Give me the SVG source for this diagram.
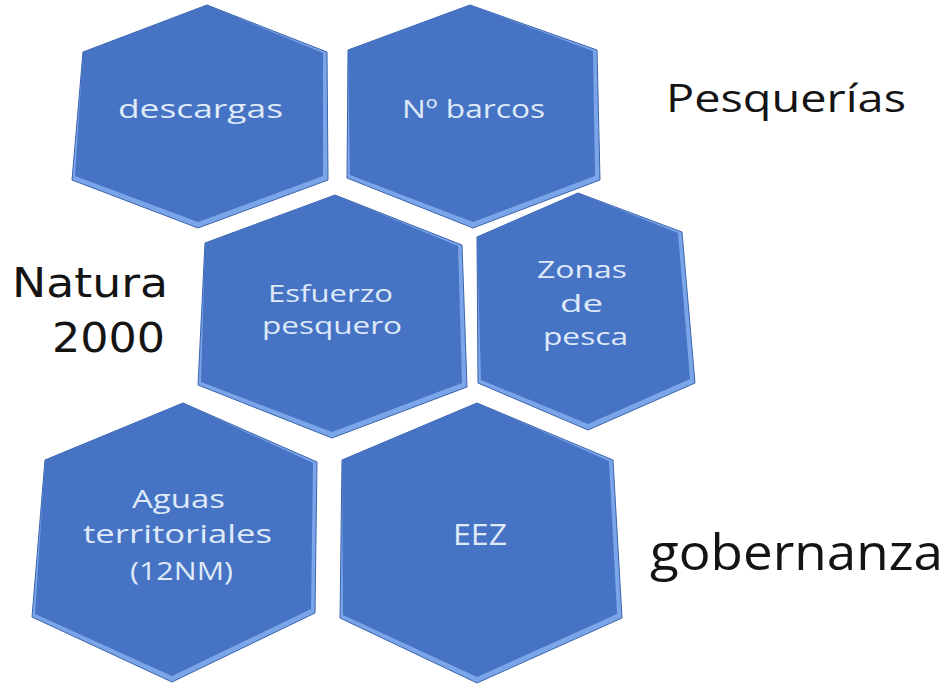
<svg xmlns="http://www.w3.org/2000/svg" width="948" height="686" viewBox="0 0 948 686">
<style>
.edge{fill:#7aa5e8;stroke:#3b63ac;stroke-width:1}
.face{fill:#4673c4}
.ht{font-family:"Open Sans","Noto Sans",sans-serif;fill:#dfeaf8;text-anchor:start}
.lbl{font-family:"Open Sans","Noto Sans",sans-serif;fill:#141414}
.nat{font-family:"DejaVu Sans","Noto Sans",sans-serif;fill:#141414}
</style>
<rect width="948" height="686" fill="#ffffff"/>
<g id="hex-descargas">
<polygon class="edge" points="207,5 327,52 328,180 198,228 72,180 83,52"/>
<polygon class="face" points="207,5 323,53 323,176 198,222 75,176 83,52"/>
<text class="ht" x="118" y="118" font-size="26" textLength="165" lengthAdjust="spacingAndGlyphs">descargas</text>
</g>
<g id="hex-barcos">
<polygon class="edge" points="470,5 597,50 600,180 473,228 347,178 348,50"/>
<polygon class="face" points="470,5 593,51 595,176 473,222 350,175 348,50"/>
<text class="ht" x="402" y="118" font-size="26" textLength="143" lengthAdjust="spacingAndGlyphs">Nº barcos</text>
</g>
<g id="hex-esfuerzo">
<polygon class="edge" points="335,195 462,245 467,387 332,438 198,385 205,243"/>
<polygon class="face" points="335,195 458,246 462,383 332,432 201,382 205,243"/>
<text class="ht" x="268" y="302" font-size="23" textLength="125" lengthAdjust="spacingAndGlyphs">Esfuerzo</text>
<text class="ht" x="262" y="334" font-size="23" textLength="140" lengthAdjust="spacingAndGlyphs">pesquero</text>
</g>
<g id="hex-zonas">
<polygon class="edge" points="578,193 682,232 695,383 588,430 478,383 477,237"/>
<polygon class="face" points="578,193 678,233 690,379 588,424 481,380 477,237"/>
<text class="ht" x="537" y="278" font-size="24" textLength="90" lengthAdjust="spacingAndGlyphs">Zonas</text>
<text class="ht" x="560" y="312" font-size="24" textLength="43" lengthAdjust="spacingAndGlyphs">de</text>
<text class="ht" x="543" y="345" font-size="24" textLength="85" lengthAdjust="spacingAndGlyphs">pesca</text>
</g>
<g id="hex-aguas">
<polygon class="edge" points="183,403 317,462 315,613 172,682 32,617 45,460"/>
<polygon class="face" points="183,403 313,463 311,609 172,676 35,614 45,460"/>
<text class="ht" x="132" y="508" font-size="26" textLength="93" lengthAdjust="spacingAndGlyphs">Aguas</text>
<text class="ht" x="83" y="543" font-size="26" textLength="189" lengthAdjust="spacingAndGlyphs">territoriales</text>
<text class="ht" x="130" y="580" font-size="26" textLength="103" lengthAdjust="spacingAndGlyphs">(12NM)</text>
</g>
<g id="hex-eez">
<polygon class="edge" points="477,403 613,460 622,618 477,683 340,618 342,460"/>
<polygon class="face" points="477,403 609,461 617,614 477,677 343,615 342,460"/>
<text class="ht" x="453" y="545" font-size="30" textLength="54" lengthAdjust="spacingAndGlyphs">EEZ</text>
</g>
<g id="labels">
<text class="lbl" x="666" y="112" font-size="39" textLength="240" lengthAdjust="spacingAndGlyphs">Pesquerías</text>
<text class="nat" x="12" y="297" font-size="40" textLength="156" lengthAdjust="spacingAndGlyphs">Natura</text>
<text class="nat" x="52" y="352" font-size="40" textLength="113" lengthAdjust="spacingAndGlyphs">2000</text>
<text class="lbl" x="650" y="570" font-size="50" textLength="293" lengthAdjust="spacingAndGlyphs">gobernanza</text>
</g>
<g id="connectors"/>
</svg>
